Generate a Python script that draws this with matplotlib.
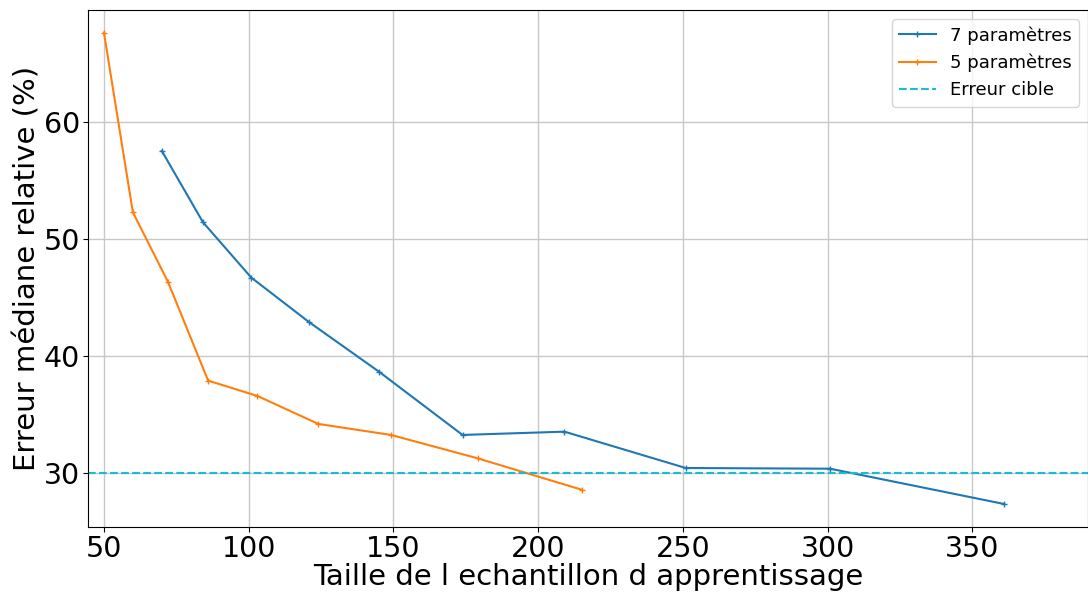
import matplotlib
matplotlib.use("Agg")
import matplotlib.pyplot as plt

# Data
n_7 = [70.0, 84.2, 100.9, 120.8, 145.0, 173.9, 209.1, 251.0, 300.9, 361.0]
err_7 = [57.54, 51.44, 46.70, 42.90, 38.65, 33.23, 33.51, 30.40, 30.34, 27.32]

n_5 = [50.0, 60.0, 72.1, 86.0, 103.0, 124.1, 149.2, 179.1, 215.1]
err_5 = [67.67, 52.29, 46.35, 37.88, 36.57, 34.17, 33.23, 31.23, 28.54]

target = 30

fig = plt.figure(figsize=(10.88, 5.95), dpi=100)
ax = fig.add_axes([88 / 1088, 1 - 527 / 595, 1000 / 1088, 517 / 595])

ax.plot(n_7, err_7, marker='+', markersize=5, lw=1.5, color='#1f77b4', label='7 paramètres')
ax.plot(n_5, err_5, marker='+', markersize=5, lw=1.5, color='#ff7f0e', label='5 paramètres')
ax.axhline(target, color='#17becf', ls='--', lw=1.5, label='Erreur cible')

ax.set_xlim(44.5, 390)
ax.set_ylim(25.35, 69.6)
ax.set_xticks([50, 100, 150, 200, 250, 300, 350])
ax.set_yticks([30, 40, 50, 60])
ax.tick_params(labelsize=20.5, pad=2)
ax.set_xlabel("Taille de l echantillon d apprentissage", fontsize=21, labelpad=0)
ax.set_ylabel("Erreur médiane relative (%)", fontsize=21, labelpad=2)
ax.grid(True, color='#c8c8c8', lw=1)
ax.set_axisbelow(True)
ax.legend(loc='upper right', fontsize=13)

fig.savefig('out.png', dpi=100)
